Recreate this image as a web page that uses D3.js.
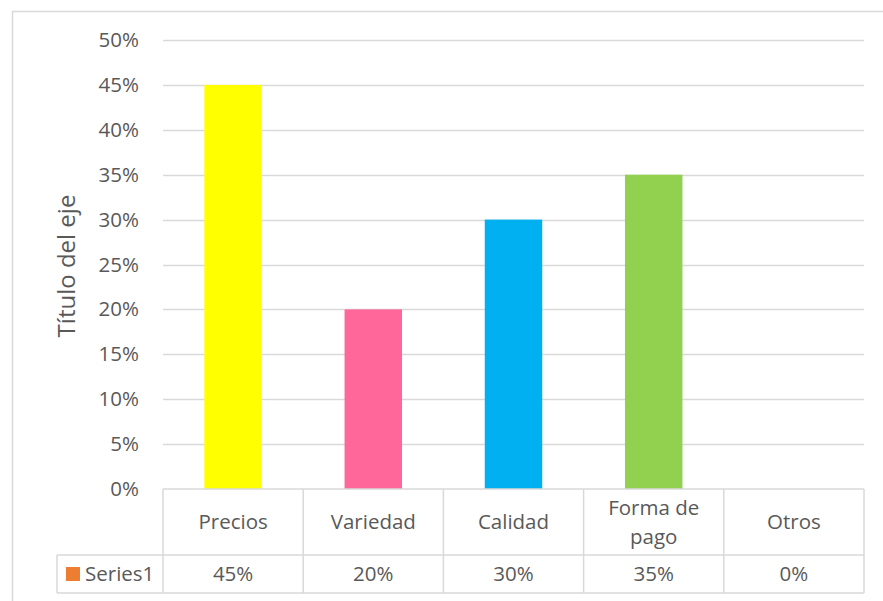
<!DOCTYPE html>
<html>
<head>
<meta charset="utf-8">
<script src="https://cdn.jsdelivr.net/npm/d3@7"></script>
<style>
  html, body { margin: 0; padding: 0; background: #fff; }
  svg { display: block; font-family: "Open Sans", Lato, "Liberation Sans", sans-serif; }
</style>
</head>
<body>
<svg id="chart" width="883" height="601"></svg>
<script>
// Data
const categories = ["Precios", "Variedad", "Calidad", "Forma de pago", "Otros"];
const values = [0.45, 0.20, 0.30, 0.35, 0.00];
const barColors = ["#FFFF00", "#FF6699", "#00B0F0", "#92D050", "#A5A5A5"];
const yTicks = [0, 0.05, 0.10, 0.15, 0.20, 0.25, 0.30, 0.35, 0.40, 0.45, 0.50];
const seriesName = "Series1";
const seriesColor = "#ED7D31";
const axisTitle = "Título del eje";

const svg = d3.select("#chart");
const textColor = "#595959";
const lineColor = "#D9D9D9";
const fontSize = 20.5;

// Chart frame
svg.append("path")
  .attr("d", "M12.5,601 V11.5 H883")
  .attr("fill", "none")
  .attr("stroke", lineColor)
  .attr("stroke-width", 1.5);

const plot = { left: 163, right: 864, top: 40, bottom: 489 };

const x = d3.scaleBand()
  .domain(categories)
  .range([plot.left, plot.right])
  .paddingInner(0.59)
  .paddingOuter(0.295);

const y = d3.scaleLinear()
  .domain([0, 0.5])
  .range([plot.bottom, plot.top]);

const pct = d3.format(".0%");

// Gridlines
svg.append("g")
  .selectAll("line")
  .data(yTicks.filter(d => d > 0))
  .join("line")
  .attr("x1", plot.left)
  .attr("x2", plot.right)
  .attr("y1", d => Math.round(y(d)) + 0.5)
  .attr("y2", d => Math.round(y(d)) + 0.5)
  .attr("stroke", lineColor)
  .attr("stroke-width", 1.5);

// Y axis labels
const yAxis = d3.axisLeft(y).tickValues(yTicks).tickFormat(pct).tickSize(0).tickPadding(0);
const yg = svg.append("g")
  .attr("transform", `translate(${139},0)`)
  .call(yAxis);
yg.select(".domain").remove();
yg.selectAll("text")
  .attr("fill", textColor)
  .attr("font-size", fontSize)
  .attr("font-family", "'Open Sans', Lato, sans-serif");

// Axis title
svg.append("text")
  .attr("transform", `translate(${67},${266}) rotate(-90)`)
  .attr("text-anchor", "middle")
  .attr("dy", "0.35em")
  .attr("fill", textColor)
  .attr("font-size", 24)
  .text(axisTitle);

// Bars
svg.append("g")
  .selectAll("rect")
  .data(values)
  .join("rect")
  .attr("x", (d, i) => x(categories[i]))
  .attr("width", x.bandwidth())
  .attr("y", d => y(d))
  .attr("height", d => y(0) - y(d))
  .attr("fill", (d, i) => barColors[i]);

// Data table
const row1Bottom = 555, row2Bottom = 593, legendLeft = 57;
const tbl = svg.append("g")
  .attr("stroke", lineColor)
  .attr("stroke-width", 1.5)
  .attr("fill", "none");
tbl.append("line").attr("x1", plot.left).attr("x2", plot.right).attr("y1", plot.bottom).attr("y2", plot.bottom);
tbl.append("line").attr("x1", legendLeft).attr("x2", plot.right).attr("y1", row1Bottom).attr("y2", row1Bottom);
tbl.append("line").attr("x1", legendLeft).attr("x2", plot.right).attr("y1", row2Bottom).attr("y2", row2Bottom);
tbl.append("line").attr("x1", legendLeft).attr("x2", legendLeft).attr("y1", row1Bottom).attr("y2", row2Bottom);
const step = x.step();
const bounds = d3.range(categories.length + 1).map(i => plot.left + i * step);
tbl.selectAll(".vb")
  .data(bounds)
  .join("line")
  .attr("x1", d => d).attr("x2", d => d)
  .attr("y1", plot.bottom).attr("y2", row2Bottom);

// Category labels (wrapped where needed)
const catG = svg.append("g")
  .attr("fill", textColor)
  .attr("font-size", fontSize)
  .attr("text-anchor", "middle");
categories.forEach((c, i) => {
  const cx = x(c) + x.bandwidth() / 2;
  const lines = c === "Forma de pago" ? ["Forma de", "pago"] : [c];
  const midY = (plot.bottom + row1Bottom) / 2;
  const lh = 29;
  lines.forEach((ln, j) => {
    catG.append("text")
      .attr("x", cx)
      .attr("y", midY + (j - (lines.length - 1) / 2) * lh)
      .attr("dy", "0.35em")
      .text(ln);
  });
});

// Values row
const valG = svg.append("g")
  .attr("fill", textColor)
  .attr("font-size", fontSize)
  .attr("text-anchor", "middle");
values.forEach((v, i) => {
  valG.append("text")
    .attr("x", x(categories[i]) + x.bandwidth() / 2)
    .attr("y", (row1Bottom + row2Bottom) / 2)
    .attr("dy", "0.35em")
    .text(pct(v));
});

// Legend key in table
svg.append("rect")
  .attr("x", 66).attr("y", 567)
  .attr("width", 14).attr("height", 14)
  .attr("fill", seriesColor);
svg.append("text")
  .attr("x", 85)
  .attr("y", (row1Bottom + row2Bottom) / 2)
  .attr("dy", "0.35em")
  .attr("fill", textColor)
  .attr("font-size", fontSize)
  .text(seriesName);
</script>
</body>
</html>
